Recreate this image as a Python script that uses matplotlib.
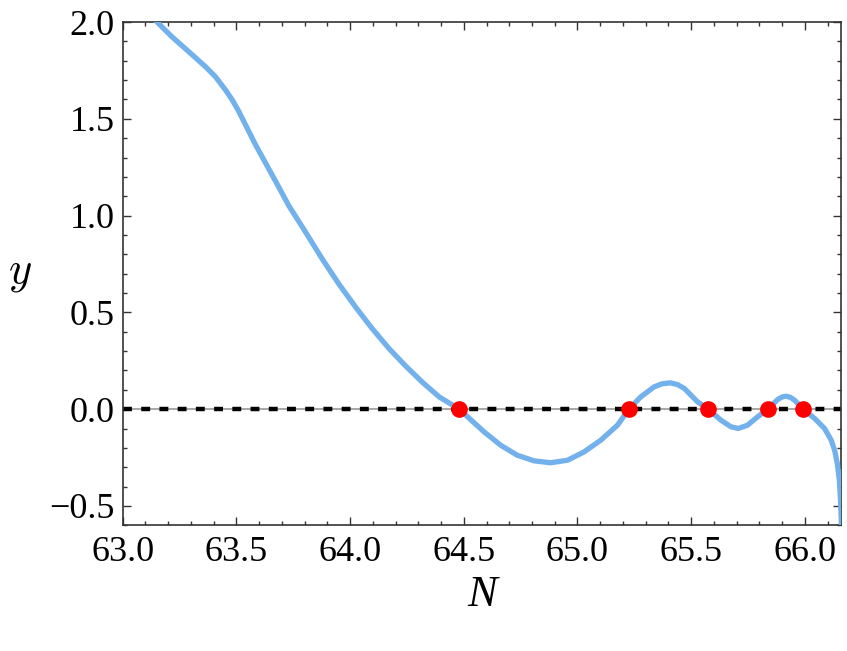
import matplotlib
matplotlib.use("Agg")
import matplotlib.pyplot as plt
from matplotlib.ticker import MultipleLocator, FuncFormatter

# Curve values
N_vals = [63.13, 63.151, 63.217, 63.291, 63.364, 63.408, 63.452, 63.482, 63.511, 63.540,
          63.584, 63.628, 63.672, 63.731, 63.805, 63.878, 63.951, 64.025, 64.098, 64.172,
          64.245, 64.319, 64.392, 64.480, 64.589, 64.662, 64.735, 64.809, 64.882, 64.956,
          65.029, 65.103, 65.176, 65.226, 65.279, 65.337, 65.372, 65.408, 65.440, 65.470,
          65.528, 65.575, 65.631, 65.675, 65.707, 65.748, 65.792, 65.837, 65.881, 65.900,
          65.918, 65.936, 65.954, 65.994, 66.043, 66.087, 66.116, 66.131, 66.143, 66.152,
          66.157, 66.162]
y_vals = [2.03, 2.000, 1.923, 1.846, 1.769, 1.717, 1.649, 1.597, 1.537, 1.469,
          1.366, 1.272, 1.178, 1.050, 0.913, 0.775, 0.646, 0.526, 0.415, 0.312,
          0.222, 0.138, 0.063, 0.000, -0.117, -0.186, -0.238, -0.267, -0.277, -0.264,
          -0.221, -0.160, -0.083, 0.000, 0.064, 0.115, 0.131, 0.136, 0.127, 0.107,
          0.038, 0.000, -0.057, -0.091, -0.100, -0.083, -0.040, 0.000, 0.050, 0.063,
          0.067, 0.061, 0.047, 0.000, -0.048, -0.100, -0.160, -0.212, -0.281, -0.367,
          -0.47, -0.62]

# Roots marked with red dots
root_N = [64.480, 65.226, 65.575, 65.837, 65.994]
root_y = [0.0, 0.0, 0.0, 0.0, 0.0]

x_limits = (63.0, 66.158)
y_limits = (-0.6, 2.0)

plt.rcParams['font.family'] = ['Liberation Serif', 'DejaVu Serif']
plt.rcParams['mathtext.fontset'] = 'cm'

fig = plt.figure(figsize=(8.47, 6.51), dpi=100)
ax = fig.add_axes([0.1449, 0.1931, 0.9926 - 0.1449, 0.9662 - 0.1931])

ax.axhline(0.0, color='#a0a0a0', lw=1.3, zorder=1)
ax.axhline(0.0, color='black', lw=3.2, dashes=(2.0, 2.1), zorder=2)
ax.plot(N_vals, y_vals, color='#72b1eb', lw=3.8, zorder=3,
        solid_joinstyle='round')
ax.plot(root_N, root_y, 'o', color='#ff0000', ms=12, mec='none', zorder=4)

ax.set_xlim(*x_limits)
ax.set_ylim(*y_limits)

fmt = FuncFormatter(lambda v, p: ('%.1f' % v).replace('-', '\u2212'))
ax.xaxis.set_major_locator(MultipleLocator(0.5))
ax.xaxis.set_minor_locator(MultipleLocator(0.1))
ax.yaxis.set_major_locator(MultipleLocator(0.5))
ax.yaxis.set_minor_locator(MultipleLocator(0.1))
ax.xaxis.set_major_formatter(fmt)
ax.yaxis.set_major_formatter(fmt)

ax.tick_params(which='both', direction='in', top=True, right=True,
               color='#333333', width=1.0, labelsize=26)
ax.tick_params(which='major', length=6)
ax.tick_params(which='minor', length=3)
ax.tick_params(axis='x', which='major', pad=8)
ax.tick_params(axis='y', which='major', pad=6)

for s in ax.spines.values():
    s.set_linewidth(1.2)
    s.set_color('#333333')

ax.set_xlabel('N', fontsize=32, fontstyle='italic', va='center')
ax.set_ylabel(r'$y$', fontsize=32, rotation=0, va='center', ha='center')
ax.xaxis.set_label_coords(0.5, -0.138)
ax.yaxis.set_label_coords(-0.143, 0.5)

fig.savefig('out.png', dpi=100)
